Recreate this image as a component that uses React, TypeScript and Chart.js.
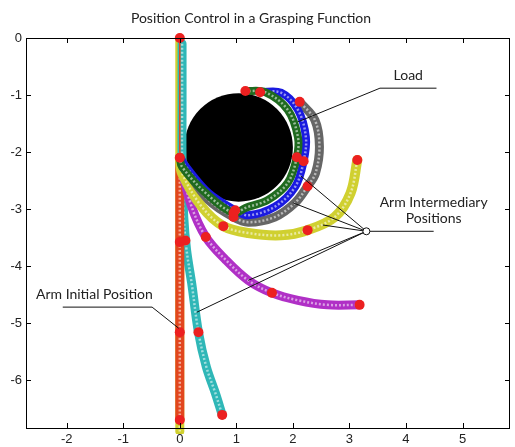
import React, { useEffect, useRef } from 'react';
import { Chart, registerables } from 'chart.js';
Chart.register(...registerables);

type P = [number, number];

// axes
const xTicks = [-2, -1, 0, 1, 2, 3, 4, 5];
const yTicks = [0, -1, -2, -3, -4, -5, -6];
const xMin = -2.72;
const xMax = 5.84;
const yMin = -6.84;
const yMax = 0;

const titleText = 'Position Control in a Grasping Function';

// arm curves (x, y)
const baseColumn: P[] = [[0, 0], [0, -3.4], [0, -6.9]];
const cyanArm: P[] = [[0.04, -0.1], [0.04, -1.2], [0.04, -2.1], [0.07, -3.14], [0.12, -3.72], [0.21, -4.3], [0.33, -5.16], [0.47, -5.77], [0.63, -6.23], [0.75, -6.61]];
const initialArm: P[] = [[0, -2.1], [0, -3.58], [0, -5.16], [0, -6.7]];
const firstLink: P[] = [[0, 0], [0, -2.1]];
const magentaArm: P[] = [[0, -2.1], [0.04, -2.32], [0.21, -2.96], [0.46, -3.49], [0.81, -3.89], [1.21, -4.25], [1.63, -4.47], [2.09, -4.6], [2.61, -4.68], [3.18, -4.68]];
const yellowArm: P[] = [[0, -2.1], [0.04, -2.37], [0.39, -2.96], [0.77, -3.3], [1.21, -3.42], [1.79, -3.46], [2.26, -3.37], [2.74, -3.14], [3.02, -2.72], [3.14, -2.14]];
const grayArm: P[] = [[0, -2.09], [0.16, -2.37], [0.51, -2.84], [0.95, -3.14], [1.21, -3.23], [1.68, -3.14], [2.04, -2.89], [2.26, -2.6], [2.4, -2.37], [2.47, -1.91], [2.39, -1.44], [2.12, -1.12]];
const blueArm: P[] = [[0, -2.09], [0.11, -2.26], [0.51, -2.72], [0.98, -3.02], [1.21, -3.11], [1.68, -2.96], [2.04, -2.61], [2.19, -2.16], [2.23, -1.74], [2.09, -1.26], [1.79, -0.96], [1.42, -0.95]];
const greenArm: P[] = [[0, -2.09], [0.04, -2.26], [0.46, -2.72], [0.95, -3.07], [1.16, -2.98], [1.56, -2.84], [1.91, -2.54], [2.07, -2.09], [2.09, -1.74], [1.91, -1.26], [1.51, -0.95], [1.16, -0.93]];

// joints (red dots)
const joints: P[] = [
  [0, 0], [0, -2.1], [0, -3.58], [0, -5.16], [0, -6.7],
  [0.1, -3.55], [0.33, -5.16], [0.75, -6.61],
  [0.46, -3.49], [1.63, -4.47], [3.18, -4.68],
  [0.77, -3.3], [2.26, -3.37], [3.14, -2.14],
  [0.95, -3.14], [2.26, -2.6], [2.12, -1.12],
  [0.98, -3.02], [2.19, -2.16], [1.42, -0.95],
  [0.95, -3.07], [2.07, -2.09], [1.16, -0.93],
];

// load
const loadCenter: P = [1.04, -1.92];
const loadRadius = 0.96;

// annotations
const loadLabel = 'Load';
const loadLabelAt: P = [4.04, -0.65];
const loadPointer: P[] = [[4.54, -0.88], [3.54, -0.88], [2.09, -1.47]];

const interLabel = ['Arm Intermediary', 'Positions'];
const interLabelAt: P = [4.49, -2.89];
const interHub: P = [3.3, -3.39];
const interTail: P = [4.49, -3.39];
const interTargets: P[] = [[2.14, -2.42], [2.0, -2.89], [2.53, -3.28], [1.21, -4.25], [0.3, -4.81]];

const initLabel = 'Arm Initial Position';
const initLabelAt: P = [-1.51, -4.49];
const initPointer: P[] = [[-2.07, -4.72], [-0.49, -4.72], [-0.02, -5.09]];

const toXY = (a: P[]) => a.map(([x, y]) => ({ x, y }));

const bandSeries: { data: P[]; color: string; width: number }[] = [
  { data: baseColumn, color: '#d0d030', width: 9 },
  { data: cyanArm, color: '#2fb7b7', width: 9 },
  { data: initialArm, color: '#e2461e', width: 9 },
  { data: magentaArm, color: '#b030c6', width: 9 },
  { data: yellowArm, color: '#d0d030', width: 10 },
  { data: grayArm, color: '#666666', width: 9 },
  { data: blueArm, color: '#1a1ae0', width: 8 },
  { data: greenArm, color: '#1f6a1f', width: 8 },
];

const frame = {
  id: 'frame',
  beforeDatasetsDraw(chart: any) {
    const { ctx, scales } = chart;
    const xs = scales.x, ys = scales.y;
    const cx = xs.getPixelForValue(loadCenter[0]);
    const cy = ys.getPixelForValue(loadCenter[1]);
    const r = xs.getPixelForValue(loadCenter[0] + loadRadius) - cx;
    ctx.save();
    ctx.fillStyle = '#000';
    ctx.beginPath();
    ctx.arc(cx, cy, r, 0, Math.PI * 2);
    ctx.fill();
    ctx.restore();
  },
  afterDatasetsDraw(chart: any) {
    const { ctx, scales, chartArea: a } = chart;
    const xs = scales.x, ys = scales.y;
    const px = (p: P) => [xs.getPixelForValue(p[0]), ys.getPixelForValue(p[1])];
    ctx.save();
    // box
    ctx.strokeStyle = '#000';
    ctx.lineWidth = 1;
    ctx.strokeRect(Math.round(a.left) + 0.5, Math.round(a.top) + 0.5, Math.round(a.right - a.left) - 1, Math.round(a.bottom - a.top));
    ctx.beginPath();
    xTicks.forEach((t) => {
      const x = Math.round(xs.getPixelForValue(t)) + 0.5;
      ctx.moveTo(x, a.bottom); ctx.lineTo(x, a.bottom - 5);
      ctx.moveTo(x, a.top); ctx.lineTo(x, a.top + 5);
    });
    yTicks.forEach((t) => {
      const y = Math.round(ys.getPixelForValue(t)) + 0.5;
      ctx.moveTo(a.left, y); ctx.lineTo(a.left + 5, y);
      ctx.moveTo(a.right, y); ctx.lineTo(a.right - 5, y);
    });
    ctx.stroke();

    // annotations
    ctx.strokeStyle = '#111';
    ctx.lineWidth = 1;
    const poly = (pts: P[]) => {
      ctx.beginPath();
      pts.forEach((p, i) => { const [x, y] = px(p); if (i) ctx.lineTo(x, y); else ctx.moveTo(x, y); });
      ctx.stroke();
    };
    poly(loadPointer);
    poly(initPointer);
    poly([interHub, interTail]);
    interTargets.forEach((t) => poly([interHub, t]));
    const [hx, hy] = px(interHub);
    ctx.beginPath();
    ctx.arc(hx, hy, 3.5, 0, Math.PI * 2);
    ctx.fillStyle = '#fff';
    ctx.fill();
    ctx.stroke();

    ctx.fillStyle = '#222';
    ctx.font = '14px Lato';
    ctx.textAlign = 'center';
    ctx.textBaseline = 'middle';
    let [lx, ly] = px(loadLabelAt);
    ctx.fillText(loadLabel, lx, ly);
    [lx, ly] = px(interLabelAt);
    ctx.fillText(interLabel[0], lx, ly);
    ctx.fillText(interLabel[1], lx, ly + 16);
    [lx, ly] = px(initLabelAt);
    ctx.fillText(initLabel, lx, ly);

    ctx.font = '14px Lato';
    ctx.fillText(titleText, 251, 18);
    ctx.restore();
  },
};

export default function App() {
  const ref = useRef<HTMLCanvasElement>(null);
  useEffect(() => {
    if (!ref.current) return;
    const datasets: any[] = [];
    bandSeries.forEach((b) => {
      datasets.push({
        data: toXY(b.data), showLine: true, borderColor: b.color, borderWidth: b.width,
        tension: 0.35, pointRadius: 0, borderCapStyle: 'round', clip: 6,
      });
      datasets.push({
        data: toXY(b.data), showLine: true, borderColor: 'rgba(255,255,255,0.55)', borderWidth: 2.5,
        borderDash: [2, 2], tension: 0.35, pointRadius: 0, clip: 6,
      });
      if (b.data === initialArm) {
        datasets.push({
          data: toXY(firstLink), showLine: true, borderColor: '#e2461e', borderWidth: 1.5, pointRadius: 0,
        });
      }
    });
    datasets.push({
      data: toXY(joints), showLine: false, pointRadius: 5, pointBackgroundColor: '#ec2020',
      pointBorderColor: '#ec2020', pointBorderWidth: 0, clip: 8,
    });
    // lower index is drawn on top in Chart.js, so reverse to keep push order = paint order
    datasets.reverse();
    const chart = new Chart(ref.current, {
      type: 'scatter',
      data: { datasets },
      plugins: [frame],
      options: {
        responsive: false,
        animation: false,
        events: [],
        layout: { padding: { top: 38, right: 1, left: 0, bottom: 0 } },
        plugins: { legend: { display: false }, tooltip: { enabled: false }, title: { display: false } },
        scales: {
          x: {
            type: 'linear', min: xMin, max: xMax,
            grid: { display: false, drawTicks: false }, border: { display: false },
            afterBuildTicks: (s: any) => { s.ticks = xTicks.map((v) => ({ value: v })); },
            afterFit: (s: any) => { s.height = 19; },
            ticks: { padding: 4, color: '#222', font: { family: 'Liberation Sans', size: 13 }, maxRotation: 0 },
          },
          y: {
            type: 'linear', min: yMin, max: yMax,
            grid: { display: false, drawTicks: false }, border: { display: false },
            afterBuildTicks: (s: any) => { s.ticks = yTicks.map((v) => ({ value: v })); },
            afterFit: (s: any) => { s.width = 26; },
            ticks: { padding: 4, color: '#222', font: { family: 'Liberation Sans', size: 13 } },
          },
        },
      },
    });
    return () => chart.destroy();
  }, []);
  return (
    <div style={{ position: 'fixed', left: 0, top: 0, width: 515, height: 447, background: '#fff' }}>
      <canvas ref={ref} width={515} height={447} style={{ display: 'block' }} />
    </div>
  );
}
